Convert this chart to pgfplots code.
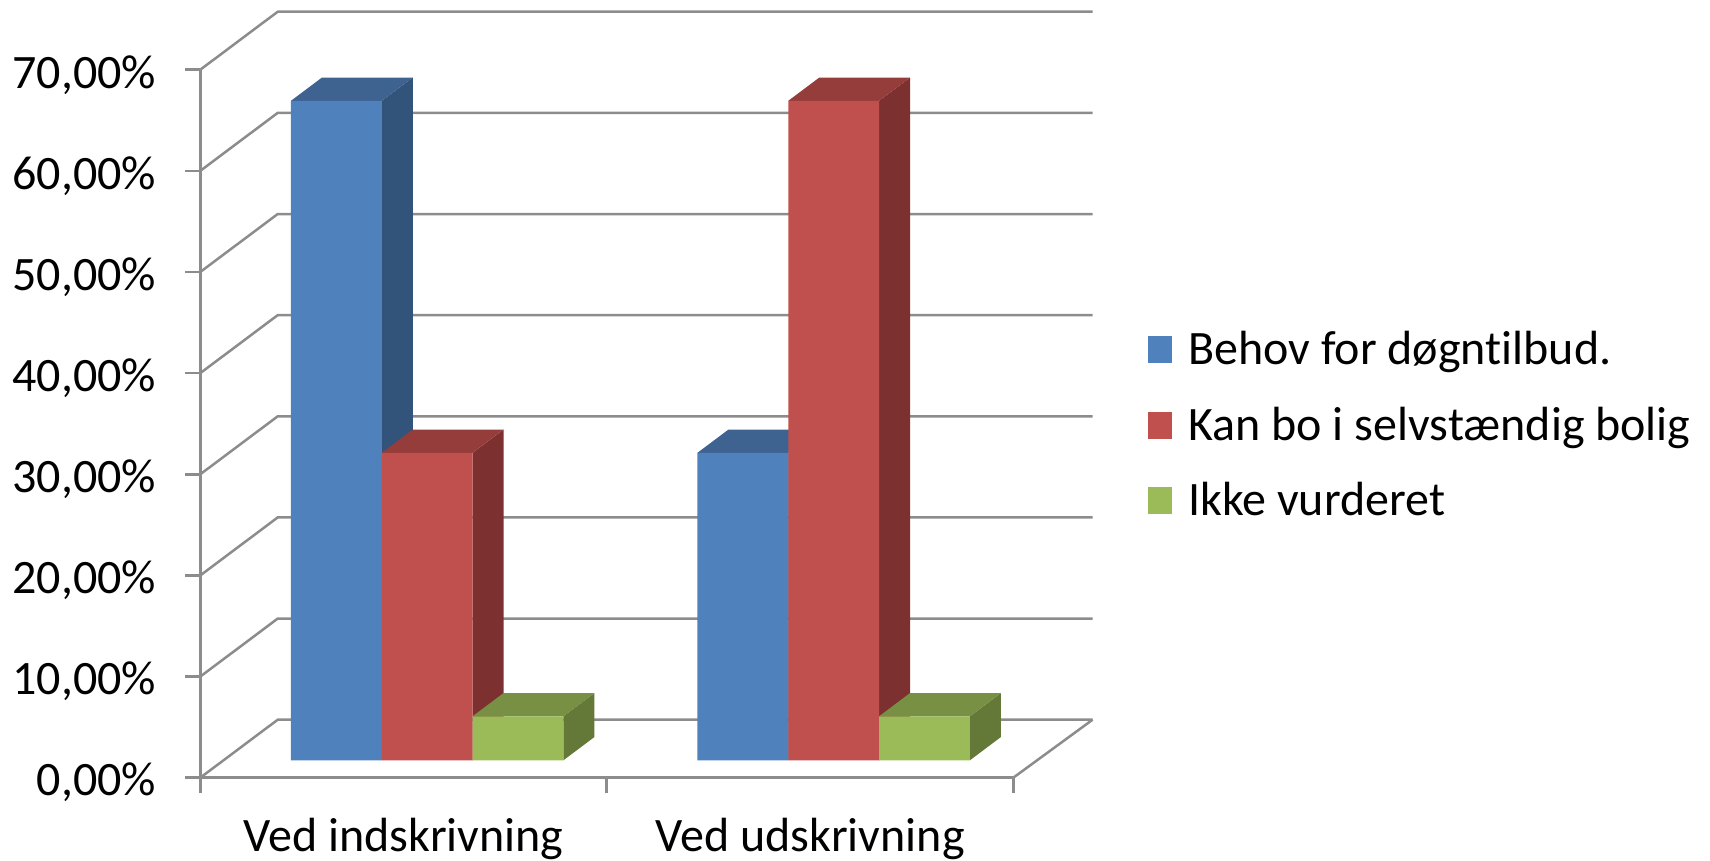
\documentclass[border=0pt]{standalone}
\usepackage{fontspec}
\setmainfont[Ligatures=NoCommon]{Carlito}
\usepackage{pgfplots}
\pgfplotsset{compat=1.18}
\definecolor{gridc}{HTML}{8C8C8C}
\definecolor{bF}{HTML}{4F81BD}\definecolor{bT}{HTML}{3E6390}\definecolor{bS}{HTML}{32537A}
\definecolor{rF}{HTML}{C0504D}\definecolor{rT}{HTML}{953D3B}\definecolor{rS}{HTML}{7C3030}
\definecolor{gF}{HTML}{9BBB59}\definecolor{gT}{HTML}{789044}\definecolor{gS}{HTML}{647838}
\begin{document}
\begin{tikzpicture}
\path[use as bounding box] (-100.15pt,-41.65pt) rectangle (754.85pt,388.85pt);
% frame axis
\begin{axis}[
  scale only axis, width=406.5pt, height=354pt, clip=false,
  xmin=0, xmax=2, ymin=0, ymax=70,
  axis x line*=bottom, axis y line*=left,
  axis line style={-, draw=gridc, line width=1.5pt},
  tick style={draw=gridc, line width=1.3pt},
  tick align=outside, major tick length=7.5pt,
  xtick={0,1,2}, x tick label as interval,
  xticklabels={Ved indskrivning,Ved udskrivning},
  xticklabel style={font=\fontsize{24}{28}\selectfont, yshift=-9.3pt},
  ytick={0,10,20,30,40,50,60,70},
  yticklabel={\pgfmathprintnumber{\tick}\%},
  /pgf/number format/.cd, fixed, fixed zerofill, precision=2, use comma, assume math mode=true,
  /pgfplots/yticklabel style={font=\fontsize{24}{28}\selectfont, xshift=-11pt, yshift=-2.5pt},
]
\pgfplotsinvokeforeach{0,10,20,30,40,50,60,70}{
  \addplot[gridc, line width=1.25pt, forget plot] coordinates {(0,#1) (0.1904,#1+5.73) (2.195,#1+5.73)};
}
\addplot[gridc, line width=1.25pt, forget plot] coordinates {(2,0) (2.195,5.73)};
\end{axis}
% bars axis
\begin{axis}[
  scale only axis, width=406.5pt, height=354pt, clip=false, hide axis,
  xmin=-0.5581, xmax=1.4419, ymin=-1.72, ymax=68.28,
  legend style={at={(axis description cs:1.1655,0.6358)}, anchor=north west, draw=none, fill=none,
    font=\fontsize{24}{28}\selectfont, inner sep=0pt, outer sep=0pt,
    row sep=15.5pt, /tikz/column 1/.style={column sep=6pt}},
  legend cell align=left,
]
% blue
\addplot[fill=bS, draw=none, forget plot] coordinates {(-0.1117,0) (-0.0354,2.3) (-0.0354,67.5) (-0.1117,65.2)};
\addplot[fill=bT, draw=none, forget plot] coordinates {(-0.3351,65.2) (-0.2588,67.5) (-0.0354,67.5) (-0.1117,65.2)};
\addplot[fill=bS, draw=none, forget plot] coordinates {(0.8883,0) (0.9646,2.3) (0.9646,32.7) (0.8883,30.4)};
\addplot[fill=bT, draw=none, forget plot] coordinates {(0.6649,30.4) (0.7412,32.7) (0.9646,32.7) (0.8883,30.4)};
\addplot[ybar, bar shift=-0.2234, bar width=0.2234, fill=bF, draw=none,
  legend image code/.code={\fill[bF] (0pt,-6.75pt) rectangle (12.2pt,6.75pt);}]
  coordinates {(0,65.2) (1,30.4)};
\addlegendentry{Behov for døgntilbud.}
% red
\addplot[fill=rS, draw=none, forget plot] coordinates {(0.1117,0) (0.1880,2.3) (0.1880,32.7) (0.1117,30.4)};
\addplot[fill=rT, draw=none, forget plot] coordinates {(-0.1117,30.4) (-0.0354,32.7) (0.1880,32.7) (0.1117,30.4)};
\addplot[fill=rS, draw=none, forget plot] coordinates {(1.1117,0) (1.1880,2.3) (1.1880,67.5) (1.1117,65.2)};
\addplot[fill=rT, draw=none, forget plot] coordinates {(0.8883,65.2) (0.9646,67.5) (1.1880,67.5) (1.1117,65.2)};
\addplot[ybar, bar shift=0, bar width=0.2234, fill=rF, draw=none,
  legend image code/.code={\fill[rF] (0pt,-6.75pt) rectangle (12.2pt,6.75pt);}]
  coordinates {(0,30.4) (1,65.2)};
\addlegendentry{Kan bo i selvstændig bolig}
% green
\addplot[fill=gS, draw=none, forget plot] coordinates {(0.3351,0) (0.4114,2.3) (0.4114,6.65) (0.3351,4.35)};
\addplot[fill=gT, draw=none, forget plot] coordinates {(0.1117,4.35) (0.1880,6.65) (0.4114,6.65) (0.3351,4.35)};
\addplot[fill=gS, draw=none, forget plot] coordinates {(1.3351,0) (1.4114,2.3) (1.4114,6.65) (1.3351,4.35)};
\addplot[fill=gT, draw=none, forget plot] coordinates {(1.1117,4.35) (1.1880,6.65) (1.4114,6.65) (1.3351,4.35)};
\addplot[ybar, bar shift=0.2234, bar width=0.2234, fill=gF, draw=none,
  legend image code/.code={\fill[gF] (0pt,-6.75pt) rectangle (12.2pt,6.75pt);}]
  coordinates {(0,4.35) (1,4.35)};
\addlegendentry{Ikke vurderet}
\end{axis}
\end{tikzpicture}
\end{document}
